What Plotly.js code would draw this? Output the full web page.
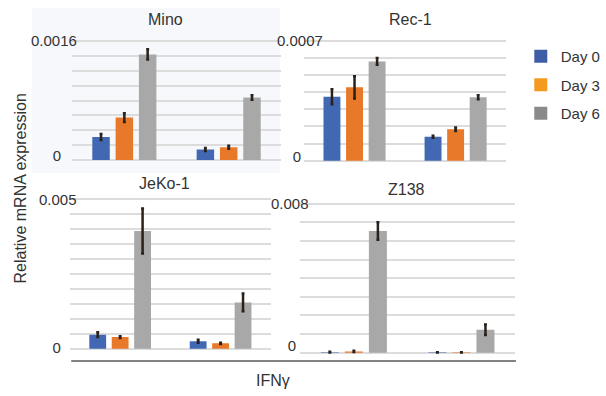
<!DOCTYPE html>
<html>
<head>
<meta charset="utf-8">
<script src="https://cdn.plot.ly/plotly-3.0.1.min.js"></script>
<style>html,body{margin:0;padding:0;background:#fff;}#chart{width:606px;height:396px;}</style>
</head>
<body>
<div id="chart"></div>
<script>
// ---- data ----
const groups = ['Group 1', 'Group 2'];
const seriesNames = ['Day 0', 'Day 3', 'Day 6'];
const panelTitles = ['Mino', 'Rec-1', 'JeKo-1', 'Z138'];
const yMax = [0.0016, 0.0007, 0.005, 0.008];
const yStep = [0.0002, 0.0001, 0.0005, 0.001];
const yTopLabels = ['0.0016', '0.0007', '0.005', '0.008'];
const yZeroLabel = '0';

const minoDay0 = [0.00031, 0.00014];
const minoDay3 = [0.00057, 0.00017];
const minoDay6 = [0.00142, 0.00084];
const minoErr0 = [0.00004, 0.00002];
const minoErr3 = [0.00006, 0.00002];
const minoErr6 = [0.00007, 0.00003];

const rec1Day0 = [0.000373, 0.00014];
const rec1Day3 = [0.000428, 0.000183];
const rec1Day6 = [0.000579, 0.00037];
const rec1Err0 = [0.000044, 0.000006];
const rec1Err3 = [0.000065, 0.00001];
const rec1Err6 = [0.00002, 0.000012];

const jekoDay0 = [0.00047, 0.000246];
const jekoDay3 = [0.00039, 0.00018];
const jekoDay6 = [0.00394, 0.00155];
const jekoErr0 = [0.00008, 0.00005];
const jekoErr3 = [0.00003, 0.00002];
const jekoErr6 = [0.00075, 0.0003];

const z138Day0 = [0.00003, 0.00002];
const z138Day3 = [0.00007, 0.00002];
const z138Day6 = [0.00653, 0.00123];
const z138Err0 = [0.00002, 0.00001];
const z138Err3 = [0.00003, 0.00001];
const z138Err6 = [0.00047, 0.00028];

const yTitle = 'Relative mRNA expression';
const xTitle = 'IFNγ';

// ---- styles ----
const W = 606, H = 396;
const FONT = 'Liberation Sans, Arial, sans-serif';
const TXT = '#333333';
const barColors = ['#4268b4', '#e8792a', '#a8a8a8'];
const legendColors = ['#3f5ca6', '#f49a1e', '#8a8a8a'];
const errColor = '#2a211a';
const PADPX = 3;

// panel pixel boxes [x0, x1, yTopPx, yZeroPx]
const boxes = [
  [74, 288, 41, 160],
  [311.7, 519, 40.7, 160.7],
  [71.7, 277.7, 199.3, 348.7],
  [307.7, 528.3, 203.7, 352.7]
];
const zeroStandoff = [10, 2, 8, 3];
const zeroShift = [-4, -4, -1, -7];
const topLabelRight = [81, 333, 81, 319];
const titlePos = [[170, 19], [421, 19], [169, 183], [417, 189]];

const panels = [
  [[minoDay0, minoErr0], [minoDay3, minoErr3], [minoDay6, minoErr6]],
  [[rec1Day0, rec1Err0], [rec1Day3, rec1Err3], [rec1Day6, rec1Err6]],
  [[jekoDay0, jekoErr0], [jekoDay3, jekoErr3], [jekoDay6, jekoErr6]],
  [[z138Day0, z138Err0], [z138Day3, z138Err3], [z138Day6, z138Err6]]
];

const traces = [];
const layout = {
  width: W, height: H, autosize: false,
  margin: {l: 0, r: 0, t: 0, b: 0},
  paper_bgcolor: '#ffffff', plot_bgcolor: 'rgba(0,0,0,0)',
  font: {family: FONT, color: TXT, size: 15},
  barmode: 'group', bargap: 0.33, bargroupgap: 0.25,
  showlegend: true,
  legend: {x: 534 / W, xanchor: 'left', y: 1 - 40 / H, yanchor: 'top',
           font: {family: FONT, size: 15, color: TXT}, tracegroupgap: 6,
           itemwidth: 30, bgcolor: 'rgba(0,0,0,0)'},
  annotations: [], shapes: []
};

// faint background of the first panel
layout.shapes.push({type: 'rect', xref: 'paper', yref: 'paper', layer: 'below',
  x0: 33 / W, x1: 287 / W, y0: 1 - 173 / H, y1: 1 - 8 / H,
  fillcolor: '#f6f8fc', line: {width: 0}});
// common x-axis line
layout.shapes.push({type: 'line', xref: 'paper', yref: 'paper',
  x0: 73 / W, x1: 529 / W, y0: 1 - 361 / H, y1: 1 - 361 / H,
  line: {color: '#5a5a5a', width: 1.5}});

panels.forEach((panel, p) => {
  const n = p + 1;
  const xa = n === 1 ? 'x' : 'x' + n;
  const ya = n === 1 ? 'y' : 'y' + n;
  panel.forEach((s, k) => {
    traces.push({
      type: 'bar', x: groups, y: s[0], name: seriesNames[k],
      xaxis: xa, yaxis: ya, showlegend: false,
      marker: {color: barColors[k], line: {width: 0}},
      error_y: {type: 'data', array: s[1], visible: true, color: errColor, thickness: 2.5, width: 1.5},
      hoverinfo: 'skip'
    });
  });
  const b = boxes[p];
  const tv = [];
  const steps = Math.round(yMax[p] / yStep[p]);
  for (let i = 0; i <= steps; i++) tv.push(+(i * yStep[p]).toPrecision(6));
  const tt = tv.map((v, i) => i === 0 ? yZeroLabel : '');
  const perPx = yMax[p] / (b[3] - b[2]);
  const pad = PADPX * perPx;
  layout['xaxis' + (n === 1 ? '' : n)] = {
    domain: [b[0] / W, b[1] / W], anchor: ya, type: 'category',
    range: [-0.5, 1.5], showticklabels: false, showgrid: false, zeroline: false,
    showline: false, ticks: '', fixedrange: true
  };
  layout['yaxis' + (n === 1 ? '' : n)] = {
    domain: [1 - (b[3] + PADPX) / H, 1 - (b[2] - PADPX) / H], anchor: xa,
    range: [-pad, yMax[p] + pad], tickmode: 'array', tickvals: tv, ticktext: tt,
    showgrid: true, gridcolor: '#dcdcdc', gridwidth: 2, zeroline: false,
    showline: false, ticks: '', ticklabelstandoff: zeroStandoff[p],
    ticklabelshift: zeroShift[p],
    tickfont: {family: FONT, size: 15, color: TXT}, fixedrange: true
  };
  layout.annotations.push({
    xref: 'paper', yref: ya, x: topLabelRight[p] / W, y: yMax[p],
    xanchor: 'right', yanchor: 'middle', text: yTopLabels[p], showarrow: false,
    font: {family: FONT, size: 15, color: TXT}
  });
  layout.annotations.push({
    xref: 'paper', yref: 'paper', x: titlePos[p][0] / W, y: 1 - titlePos[p][1] / H,
    xanchor: 'center', yanchor: 'middle', text: panelTitles[p], showarrow: false,
    font: {family: FONT, size: 16, color: TXT}
  });
});

// legend keys
seriesNames.forEach((nm, k) => {
  traces.push({
    type: 'scatter', mode: 'markers', x: [null], y: [null], name: nm,
    legendgroup: 'g' + k, showlegend: true,
    marker: {symbol: 'square', size: 13, color: legendColors[k]},
    hoverinfo: 'skip'
  });
});

layout.annotations.push({
  xref: 'paper', yref: 'paper', x: 20 / W, y: 1 - 189 / H, textangle: -90,
  xanchor: 'center', yanchor: 'middle', text: yTitle, showarrow: false,
  font: {family: FONT, size: 16, color: TXT}
});
layout.annotations.push({
  xref: 'paper', yref: 'paper', x: 280 / W, y: 1 - 380 / H,
  xanchor: 'center', yanchor: 'middle', text: xTitle, showarrow: false,
  font: {family: FONT, size: 16, color: TXT}
});

Plotly.newPlot('chart', traces, layout, {staticPlot: true, displayModeBar: false});
</script>
</body>
</html>
